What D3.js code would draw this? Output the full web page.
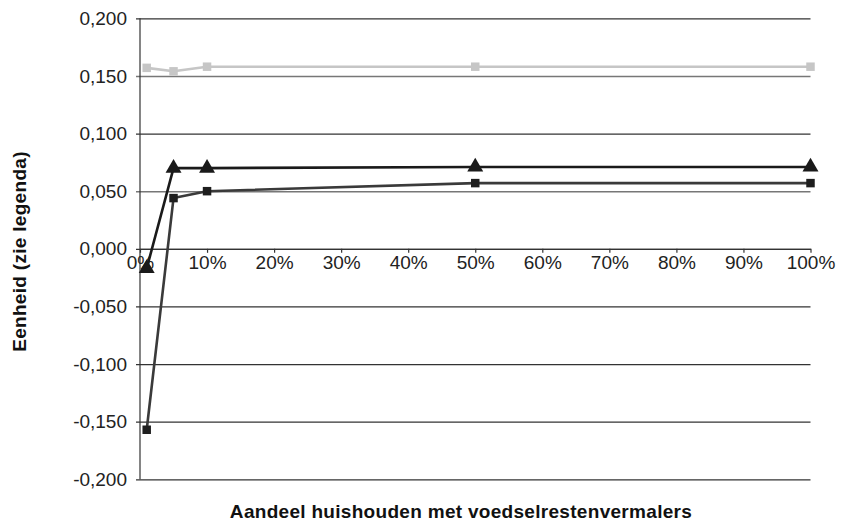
<!DOCTYPE html>
<html>
<head>
<meta charset="utf-8">
<script src="https://cdn.jsdelivr.net/npm/d3@7"></script>
<style>
  html, body { margin: 0; padding: 0; background: #fff; }
  svg { display: block; }
  text { font-family: "Liberation Sans", Arial, sans-serif; }
</style>
</head>
<body>
<svg id="chart" width="848" height="527"></svg>
<script>
// Share of households with a food waste disposer (x, %)
const shares = [1, 5, 10, 50, 100];

// Series values (unit per legend)
const seriesLight = [0.157, 0.154, 0.158, 0.158, 0.158];
const seriesTriangle = [-0.017, 0.070, 0.070, 0.071, 0.071];
const seriesSquare = [-0.157, 0.044, 0.050, 0.057, 0.057];

// Axis ticks
const xTicks = [0, 10, 20, 30, 40, 50, 60, 70, 80, 90, 100];
const yTicks = [0.2, 0.15, 0.1, 0.05, 0, -0.05, -0.1, -0.15, -0.2];

const xTitle = "Aandeel huishouden met voedselrestenvermalers";
const yTitle = "Eenheid (zie legenda)";

const svg = d3.select("#chart");
const plotLeft = 140, plotRight = 810.5, plotTop = 18.3, plotBottom = 479.3;

const x = d3.scaleLinear().domain([0, 100]).range([plotLeft, plotRight]);
const y = d3.scaleLinear().domain([-0.2, 0.2]).range([plotBottom, plotTop]);

const fmt = v => d3.format(".3f")(v).replace(".", ",").replace("−", "-");

// Horizontal gridlines with tick stubs on the left
const yAxis = d3.axisLeft(y)
  .tickValues(yTicks)
  .tickSize(-(plotRight - plotLeft))
  .tickSizeOuter(0)
  .tickPadding(13)
  .tickFormat(fmt);

const gy = svg.append("g").attr("transform", `translate(${plotLeft},0)`).call(yAxis);
gy.select(".domain").remove();
gy.selectAll(".tick line")
  .attr("x1", -4)
  .attr("stroke", "#333")
  .attr("stroke-width", 1.2);
gy.selectAll(".tick line").filter(d => Math.abs(d - 0.15) < 1e-9 || Math.abs(d - 0.05) < 1e-9)
  .attr("stroke", "#777")
  .attr("stroke-width", 1.6);
gy.selectAll(".tick text")
  .attr("fill", "#222")
  .attr("font-size", 19)
  .attr("x", -13);

// Vertical axis line
svg.append("line")
  .attr("x1", plotLeft).attr("x2", plotLeft)
  .attr("y1", plotTop).attr("y2", plotBottom)
  .attr("stroke", "#333").attr("stroke-width", 1.2);

// Horizontal axis at zero with tick marks downward
const xAxis = d3.axisBottom(x)
  .tickValues(xTicks)
  .tickSize(4)
  .tickSizeOuter(0)
  .tickPadding(3)
  .tickFormat(d => d + "%");

const gx = svg.append("g").attr("transform", `translate(0,${y(0)})`).call(xAxis);
gx.select(".domain").attr("stroke", "#333").attr("stroke-width", 1.2);
gx.selectAll(".tick line").attr("stroke", "#333").attr("stroke-width", 1.2);
gx.selectAll(".tick text")
  .attr("fill", "#222")
  .attr("font-size", 19);

// Series lines and markers
const line = d3.line().x((d, i) => x(shares[i])).y(d => y(d));

const series = [
  { values: seriesLight, color: "#c6c6c6", markerFill: "#c6c6c6", marker: "square" },
  { values: seriesSquare, color: "#3a3a3a", markerFill: "#1e1e1e", marker: "square" },
  { values: seriesTriangle, color: "#1a1a1a", markerFill: "#1a1a1a", marker: "triangle" }
];

const symSquare = d3.symbol().type(d3.symbolSquare).size(72);
const symTriangle = d3.symbol().type(d3.symbolTriangle).size(110);

series.forEach(s => {
  svg.append("path")
    .datum(s.values)
    .attr("d", line)
    .attr("fill", "none")
    .attr("stroke", s.color)
    .attr("stroke-width", 2.6)
    .attr("stroke-linejoin", "round");

  svg.append("g").selectAll("path")
    .data(s.values)
    .join("path")
    .attr("transform", (d, i) => `translate(${x(shares[i])},${y(d)})`)
    .attr("d", s.marker === "square" ? symSquare() : symTriangle())
    .attr("fill", s.markerFill);
});

// Axis titles
svg.append("text")
  .attr("x", (229 + 693) / 2)
  .attr("y", 518)
  .attr("text-anchor", "middle")
  .attr("font-size", 19)
  .attr("letter-spacing", 0.3)
  .attr("font-weight", "bold")
  .attr("fill", "#111")
  .text(xTitle);

svg.append("text")
  .attr("transform", `translate(26,${(153 + 350) / 2}) rotate(-90)`)
  .attr("text-anchor", "middle")
  .attr("font-size", 19)
  .attr("letter-spacing", 0.3)
  .attr("font-weight", "bold")
  .attr("fill", "#111")
  .text(yTitle);
</script>
</body>
</html>
